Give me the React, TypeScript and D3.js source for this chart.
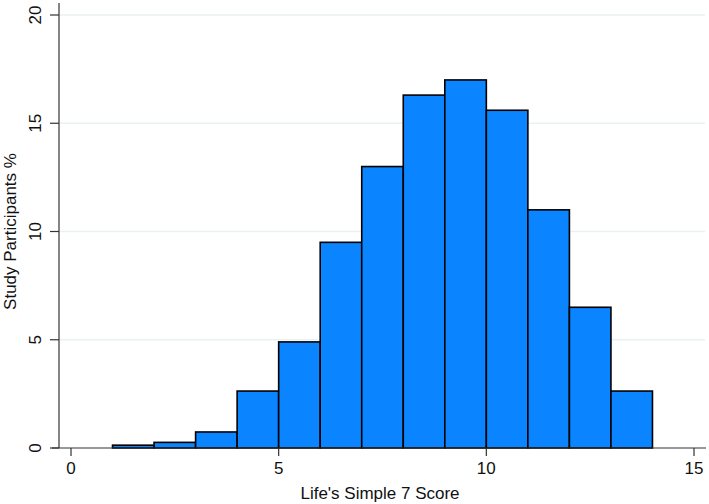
import * as d3 from "d3";

// bins of width 1, starting at these scores
const binStarts = [1, 2, 3, 4, 5, 6, 7, 8, 9, 10, 11, 12, 13];
const percents = [0.13, 0.26, 0.74, 2.63, 4.9, 9.5, 13.0, 16.3, 17.0, 15.6, 11.0, 6.5, 2.63];
const xTicks = [0, 5, 10, 15];
const yTicks = [0, 5, 10, 15, 20];

const W = 709;
const H = 504;
const font = "'Liberation Sans', Arial, sans-serif";

export default function App() {
  const x = d3.scaleLinear().domain([0, 15]).range([71, 694]);
  const y = d3.scaleLinear().domain([0, 20]).range([448, 15]);
  const left = 59;
  const bottom = 448;

  const bins = binStarts.map((s, i) => ({ x0: s, x1: s + 1, v: percents[i] }));

  return (
    <svg
      width={W}
      height={H}
      style={{ position: "fixed", top: 0, left: 0, background: "#fff" }}
      fontFamily={font}
    >
      {/* gridlines */}
      {yTicks.filter((t) => t > 0).map((t) => (
        <line key={"g" + t} x1={left + 1} x2={705} y1={y(t)} y2={y(t)} stroke="#e9f1f3" strokeWidth={1.3} />
      ))}

      {/* bars */}
      {bins.map((b, i) => (
        <rect
          key={i}
          x={x(b.x0)}
          y={y(b.v)}
          width={x(b.x1) - x(b.x0)}
          height={bottom - y(b.v)}
          fill="#0a84ff"
          stroke="#000"
          strokeWidth={1.6}
        />
      ))}

      {/* axes */}
      <line x1={left} x2={left} y1={3} y2={bottom} stroke="#333" strokeWidth={1.2} />
      <line x1={52} x2={706} y1={bottom} y2={bottom} stroke="#333" strokeWidth={1.2} />

      {yTicks.map((t) => (
        <g key={"y" + t}>
          <line x1={50} x2={left} y1={y(t)} y2={y(t)} stroke="#333" strokeWidth={1.2} />
          <text
            transform={`translate(41,${y(t)}) rotate(-90)`}
            textAnchor="middle"
            fontSize={17}
            fill="#111"
          >
            {t}
          </text>
        </g>
      ))}

      {xTicks.map((t) => (
        <g key={"x" + t}>
          <line x1={x(t)} x2={x(t)} y1={bottom} y2={456} stroke="#333" strokeWidth={1.2} />
          <text x={x(t)} y={474} textAnchor="middle" fontSize={17} fill="#111">
            {t}
          </text>
        </g>
      ))}

      <text x={380} y={499} textAnchor="middle" fontSize={17} fill="#111">
        Life's Simple 7 Score
      </text>
      <text
        transform={`translate(16,${(15 + 448) / 2}) rotate(-90)`}
        textAnchor="middle"
        fontSize={17}
        fill="#111"
      >
        Study Participants %
      </text>
    </svg>
  );
}
